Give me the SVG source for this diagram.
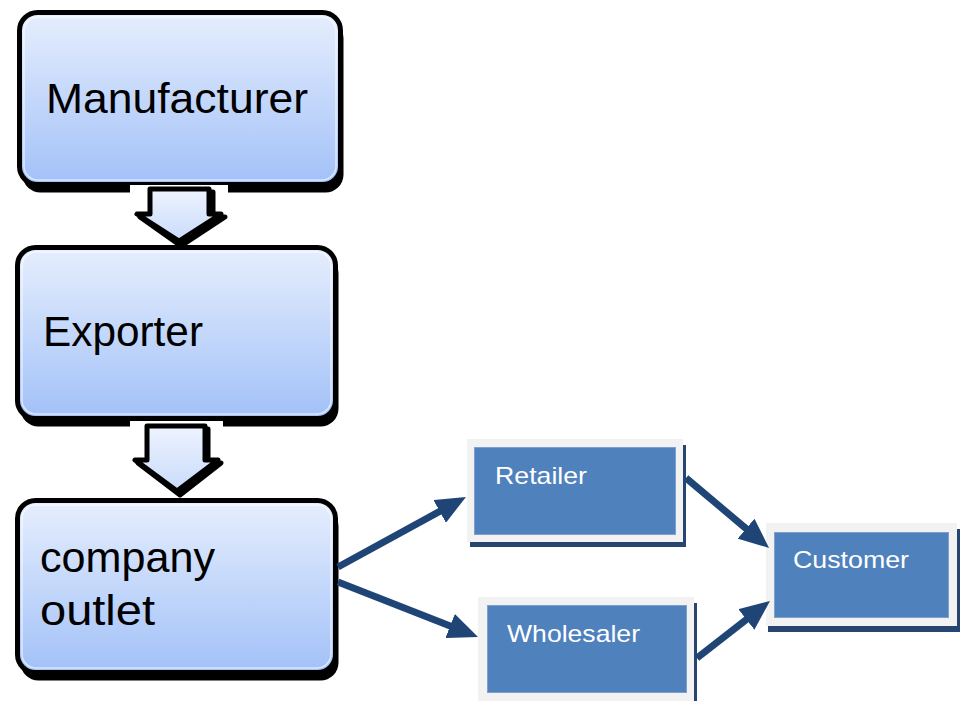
<svg xmlns="http://www.w3.org/2000/svg" width="963" height="701" viewBox="0 0 963 701">
  <defs>
    <linearGradient id="boxGrad" x1="0" y1="0" x2="0" y2="1">
      <stop offset="0" stop-color="#e6eefd"/>
      <stop offset="1" stop-color="#a2c1f8"/>
    </linearGradient>
    <linearGradient id="arrowGrad" x1="0" y1="0" x2="0" y2="1">
      <stop offset="0" stop-color="#eef3fe"/>
      <stop offset="1" stop-color="#c9dbfb"/>
    </linearGradient>
    <marker id="head" viewBox="0 0 30 26" markerWidth="30" markerHeight="26" refX="20" refY="13" orient="auto" markerUnits="userSpaceOnUse">
      <path d="M0,0 L30,13 L0,26 z" fill="#1f4577"/>
    </marker>
  </defs>
  <style>
    .shadow { fill: #000; }
    .box { fill: url(#boxGrad); stroke: #000; stroke-width: 5; }
    .inner { fill: none; stroke: #ffffff; stroke-opacity: 0.6; stroke-width: 1.5; }
    .big { font-family: "Liberation Sans", Arial, sans-serif; font-size: 42px; fill: #000; }
    .blk { fill: url(#arrowGrad); stroke: #000; stroke-width: 5; stroke-linejoin: round; }
    .frame { fill: #f2f2f2; }
    .bshadow { fill: #27466f; }
    .bfill { fill: #4f81bd; stroke: #7da0cf; stroke-width: 1; }
    .small { font-family: "Liberation Sans", Arial, sans-serif; font-size: 24px; fill: #ffffff; }
    .conn { stroke: #1f4577; stroke-width: 7; fill: none; marker-end: url(#head); }
  </style>

  <g id="manufacturer">
    <rect class="shadow" x="22.5" y="20.5" width="321" height="172" rx="18"/>
    <rect class="box" x="19.5" y="12.5" width="321" height="172" rx="18"/>
    <rect class="inner" x="24" y="17" width="312" height="163" rx="14"/>
    <text class="big" x="46" y="113" textLength="262" lengthAdjust="spacingAndGlyphs">Manufacturer</text>
  </g>

  <g id="exporter">
    <rect class="shadow" x="20.5" y="255.5" width="318" height="171" rx="18"/>
    <rect class="box" x="17.5" y="247.5" width="318" height="171" rx="18"/>
    <rect class="inner" x="22" y="252" width="309" height="162" rx="14"/>
    <text class="big" x="43" y="346" textLength="160" lengthAdjust="spacingAndGlyphs">Exporter</text>
  </g>

  <g id="company-outlet">
    <rect class="shadow" x="20.5" y="508.5" width="318" height="172" rx="18"/>
    <rect class="box" x="17.5" y="500.5" width="318" height="172" rx="18"/>
    <rect class="inner" x="22" y="505" width="309" height="163" rx="14"/>
    <text class="big" x="40" y="572" textLength="175" lengthAdjust="spacingAndGlyphs">company</text>
    <text class="big" x="40" y="625" textLength="115" lengthAdjust="spacingAndGlyphs">outlet</text>
  </g>

  <g id="arrow-down-1">
    <rect x="130" y="185" width="98" height="11" fill="#ffffff"/>
    <polygon class="shadow" points="153,192 213,192 213,217 225,217 181,246 140,217 153,217" stroke="#000" stroke-width="5" stroke-linejoin="round"/>
    <polygon class="blk" points="150,189 209,189 209,214 221,214 179,241 137,214 150,214"/>
  </g>

  <g id="arrow-down-2">
    <rect x="130" y="421" width="93" height="10" fill="#ffffff"/>
    <polygon class="shadow" points="150,429 208,429 208,463 221,463 180,495 138,463 150,463" stroke="#000" stroke-width="5" stroke-linejoin="round"/>
    <polygon class="blk" points="147,426 205,426 205,460 218,460 177,491 135,460 147,460"/>
  </g>

  <g id="retailer">
    <rect class="bshadow" x="470" y="445" width="216" height="102"/>
    <rect class="frame" x="467" y="439" width="216" height="103"/>
    <rect class="bfill" x="474.5" y="447.5" width="201" height="87"/>
    <text class="small" x="495" y="484" textLength="92" lengthAdjust="spacingAndGlyphs">Retailer</text>
  </g>

  <g id="wholesaler">
    <rect class="bshadow" x="481" y="603" width="216" height="105"/>
    <rect class="frame" x="478" y="597" width="216" height="104"/>
    <rect class="bfill" x="487.5" y="605.5" width="199" height="87"/>
    <text class="small" x="507" y="642" textLength="133" lengthAdjust="spacingAndGlyphs">Wholesaler</text>
  </g>

  <g id="customer">
    <rect class="bshadow" x="768" y="529" width="192" height="103"/>
    <rect class="frame" x="766" y="523" width="191" height="103"/>
    <rect class="bfill" x="774.5" y="532.5" width="174" height="85"/>
    <text class="small" x="793" y="568" textLength="116" lengthAdjust="spacingAndGlyphs">Customer</text>
  </g>

  <g id="connectors">
    <line class="conn" x1="338" y1="567" x2="457.2" y2="501.8"/>
    <line class="conn" x1="338" y1="582" x2="468.7" y2="633.3"/>
    <line class="conn" x1="686" y1="478" x2="761.4" y2="541.5"/>
    <line class="conn" x1="697" y1="658" x2="762.1" y2="607.2"/>
  </g>
</svg>
